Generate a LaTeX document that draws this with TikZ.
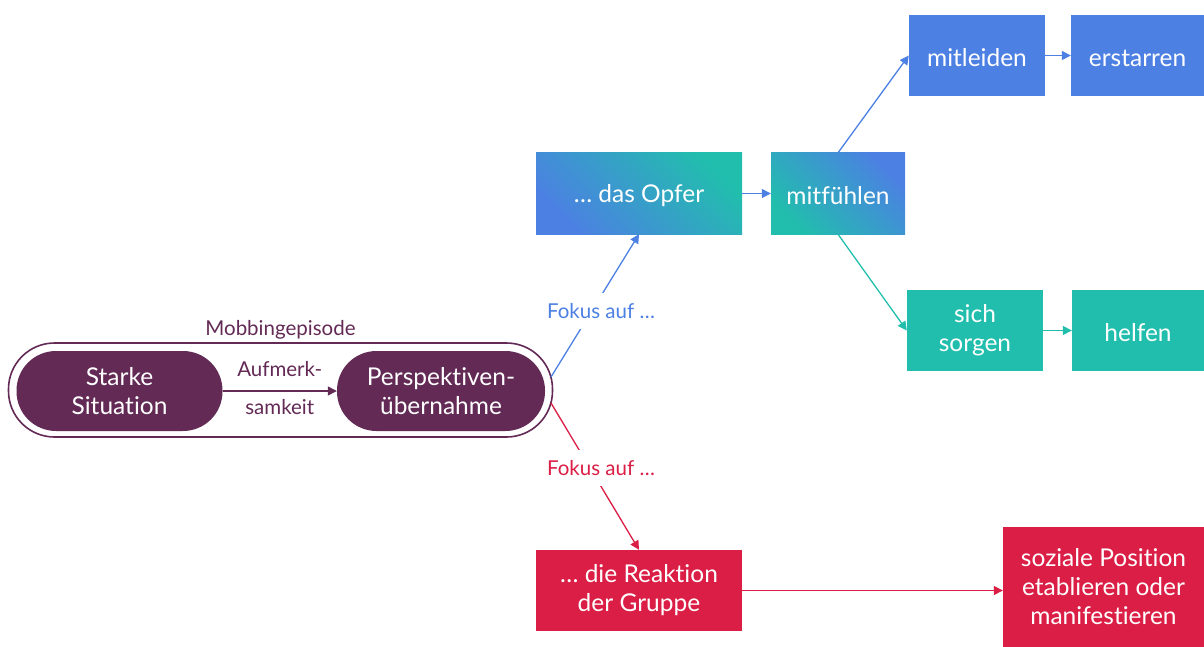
\documentclass[tikz,border=0pt]{standalone}
\usepackage{fontspec}
\setmainfont{Lato}[RawFeature={-liga;-clig;-dlig;-calt}]
\usetikzlibrary{arrows.meta,calc}
\definecolor{cblue}{HTML}{4C80E3}
\definecolor{cteal}{HTML}{21BEAD}
\definecolor{cred}{HTML}{DB1E45}
\definecolor{cpurple}{HTML}{622A55}
\tikzset{
  box/.style={rectangle, inner sep=0pt, text=white, align=center,
    font=\fontsize{24.5}{29}\selectfont, execute at begin node={\rule{0pt}{23pt}}},
  pill/.style={rectangle, rounded corners=39.5, fill=cpurple, text=white, inner sep=0pt,
    align=center, minimum width=206, minimum height=80, font=\fontsize{24.5}{29}\selectfont},
  conn/.style={line width=1.3pt, -{Triangle[length=9pt,width=9pt]}},
  lbl/.style={font=\fontsize{20.5}{24}\selectfont, inner sep=0pt},
  fokus/.style={lbl, fill=white, inner xsep=2pt, inner ysep=10pt},
}
\begin{document}
\begin{tikzpicture}[x=1pt,y=-1pt]
\useasboundingbox (0,0) rectangle (1204,647);
% episode group
\node[draw=cpurple, line width=1.6pt, fill=white, rounded corners=46, minimum width=544, minimum height=94, inner sep=0pt] (episode) at (280.5,390) {};
\node[pill] (starke) at (119.5,391) {Starke\\Situation};
\node[pill, minimum width=208] (persp) at (441,391) {Perspektiven-\\übernahme};
\draw[conn, cpurple] (starke) -- node[lbl, text=cpurple, above=14pt] (aufm) {Aufmerk-} node[lbl, text=cpurple, below=8pt] (samk) {samkeit} (persp);
\node[lbl, text=cpurple, above=3pt] (mobb) at (episode.north) {Mobbingepisode};
% boxes
\node[box, top color=cteal, bottom color=cblue, shading angle=-45, minimum width=206, minimum height=81] (opfer) at (639,193.5) {… das Opfer};
\node[box, top color=cblue, bottom color=cteal, shading angle=-45, minimum width=134, minimum height=81] (mitf) at (838,193.5) {mitfühlen};
\node[box, fill=cblue, minimum width=136, minimum height=81] (mitleiden) at (977,55.5) {mitleiden};
\node[box, fill=cblue, minimum width=133, minimum height=81] (erstarren) at (1137.5,55.5) {erstarren};
\node[box, fill=cteal, minimum width=136, minimum height=81] (sorgen) at (975,330.5) {sich\\sorgen};
\node[box, fill=cteal, minimum width=132, minimum height=81] (helfen) at (1138,330.5) {helfen};
\node[box, fill=cred, minimum width=206, minimum height=81] (reaktion) at (639,590.5) {… die Reaktion\\der Gruppe};
\node[box, fill=cred, minimum width=201, minimum height=120] (soziale) at (1103.5,587) {soziale Position\\etablieren oder\\manifestieren};
% connectors
\coordinate (bstart) at (551,377);
\coordinate (rstart) at (551,403);
\draw[conn, cblue] (bstart) -- (opfer.south);
\node[fokus, text=cblue] (fokb) at (601,311) {Fokus auf …};
\draw[conn, cred] (rstart) -- (reaktion.north);
\node[fokus, text=cred] (fokr) at (601,468) {Fokus auf …};
\draw[conn, cblue] (opfer) -- (mitf);
\draw[conn, cblue] (mitf.north) -- (mitleiden.west);
\draw[conn, cteal] (mitf.south) -- (sorgen.west);
\draw[conn, cblue] (mitleiden) -- (erstarren);
\draw[conn, cteal] (sorgen) -- (helfen);
\draw[conn, cred] (reaktion.east) -- (reaktion.east -| soziale.west);
\end{tikzpicture}
\end{document}
